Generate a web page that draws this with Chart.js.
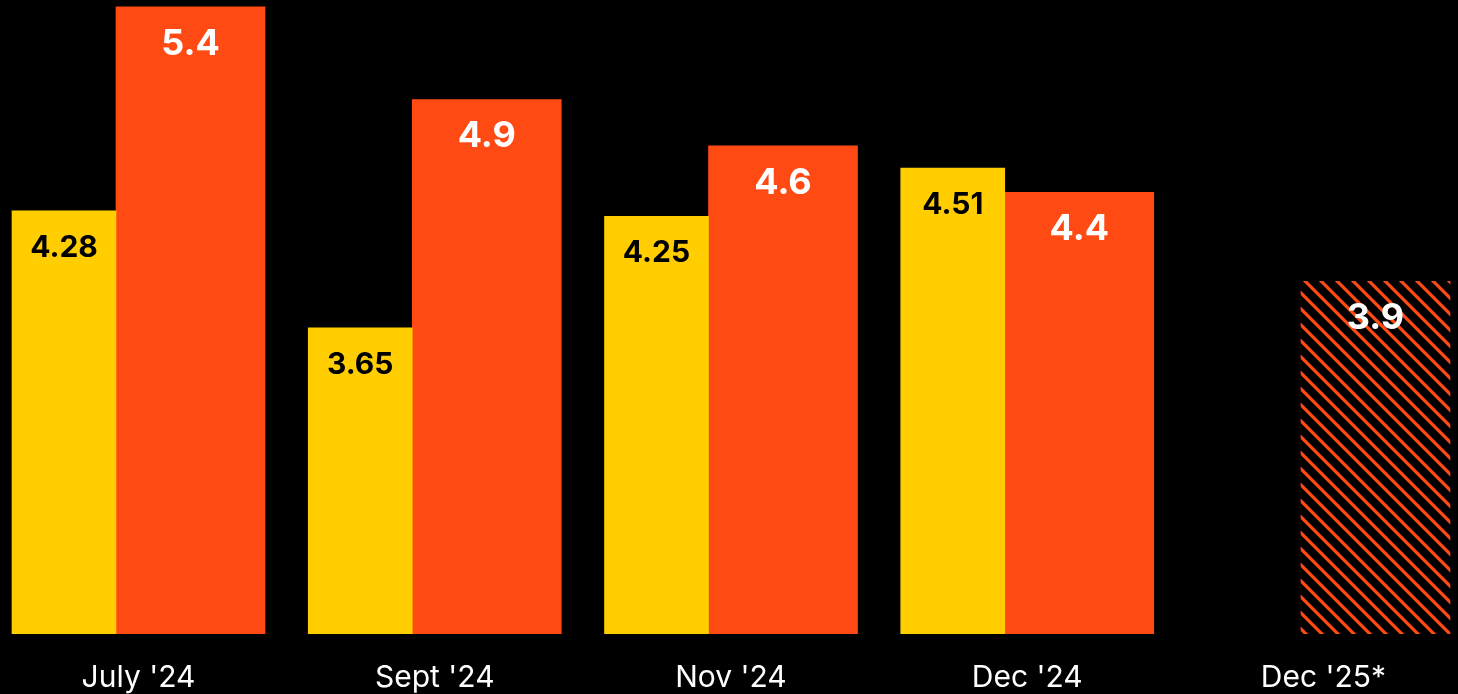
<!DOCTYPE html>
<html>
<head>
<meta charset="utf-8">
<script src="https://cdn.jsdelivr.net/npm/chart.js@4.4.1/dist/chart.umd.min.js"></script>
<style>
    html, body { margin: 0; padding: 0; background: #000; overflow: hidden; }
    #wrap { position: relative; width: 1458px; height: 694px; }
</style>
</head>
<body>
<div id="wrap"><canvas id="chartCanvas"></canvas></div>
<script>
const categories = ["July '24", "Sept '24", "Nov '24", "Dec '24", "Dec '25*"];
const yellowValues = [4.28, 3.65, 4.25, 4.51, null];
const orangeValues = [5.38, 4.88, 4.63, 4.38, 3.90];
const projected = [false, false, false, false, true];

const COLORS = {
    yellow: '#ffcd00',
    orange: '#ff4a14',
    text: '#ffffff'
};
const FONT = "Inter, 'Noto Sans', sans-serif";

// diagonal stripes for the projected bar
function makeHatch(color) {
    const size = 16;
    const c = document.createElement('canvas');
    c.width = size;
    c.height = size;
    const g = c.getContext('2d');
    g.strokeStyle = color;
    g.lineWidth = 3.2;
    g.beginPath();
    g.moveTo(-2, -2);
    g.lineTo(size + 2, size + 2);
    g.moveTo(-2, size - 2);
    g.lineTo(2, size + 2);
    g.moveTo(size - 2, -2);
    g.lineTo(size + 2, 2);
    g.stroke();
    return g.createPattern(c, 'repeat');
}

// draws the value inside the top of each bar
const valueLabels = {
    id: 'valueLabels',
    afterDatasetsDraw(chart) {
        const ctx = chart.ctx;
        chart.data.datasets.forEach((ds, i) => {
            const meta = chart.getDatasetMeta(i);
            meta.data.forEach((bar, j) => {
                const v = ds.data[j];
                if (v === null || v === undefined) return;
                ctx.save();
                ctx.fillStyle = ds.labelColor;
                ctx.font = ds.labelFont;
                ctx.textAlign = 'center';
                ctx.textBaseline = 'middle';
                ctx.fillText(v.toFixed(ds.labelDigits), bar.x, bar.y + 37);
                ctx.restore();
            });
        });
    }
};

const hatch = makeHatch(COLORS.orange);
const ctx = document.getElementById('chartCanvas').getContext('2d');

// bars may spill sideways out of the chart area, not below it
const sideClip = { left: false, right: false, top: 0, bottom: 0 };

new Chart(ctx, {
    type: 'bar',
    data: {
        labels: categories,
        datasets: [
            {
                data: yellowValues,
                backgroundColor: COLORS.yellow,
                barThickness: 104,
                clip: sideClip,
                labelColor: '#000000',
                labelFont: `bold 30px ${FONT}`,
                labelDigits: 2
            },
            {
                data: orangeValues,
                backgroundColor: projected.map(p => p ? hatch : COLORS.orange),
                barThickness: 149,
                clip: sideClip,
                labelColor: '#ffffff',
                labelFont: `bold 36px ${FONT}`,
                labelDigits: 1
            }
        ]
    },
    options: {
        responsive: true,
        maintainAspectRatio: false,
        animation: false,
        layout: {
            padding: { left: 116, right: 157, top: 3, bottom: 0 }
        },
        plugins: {
            legend: { display: false },
            tooltip: { enabled: false }
        },
        scales: {
            x: {
                offset: false,
                grid: { display: false, drawTicks: false },
                border: { display: false },
                ticks: {
                    color: COLORS.text,
                    font: { family: FONT, size: 30 },
                    padding: 26,
                    labelOffset: 22.5,
                    maxRotation: 0,
                    autoSkip: false
                },
                afterFit(scale) {
                    scale.height = 60;
                }
            },
            y: {
                display: false,
                min: 2,
                max: 5.4
            }
        }
    },
    plugins: [valueLabels]
});
</script>
</body>
</html>
